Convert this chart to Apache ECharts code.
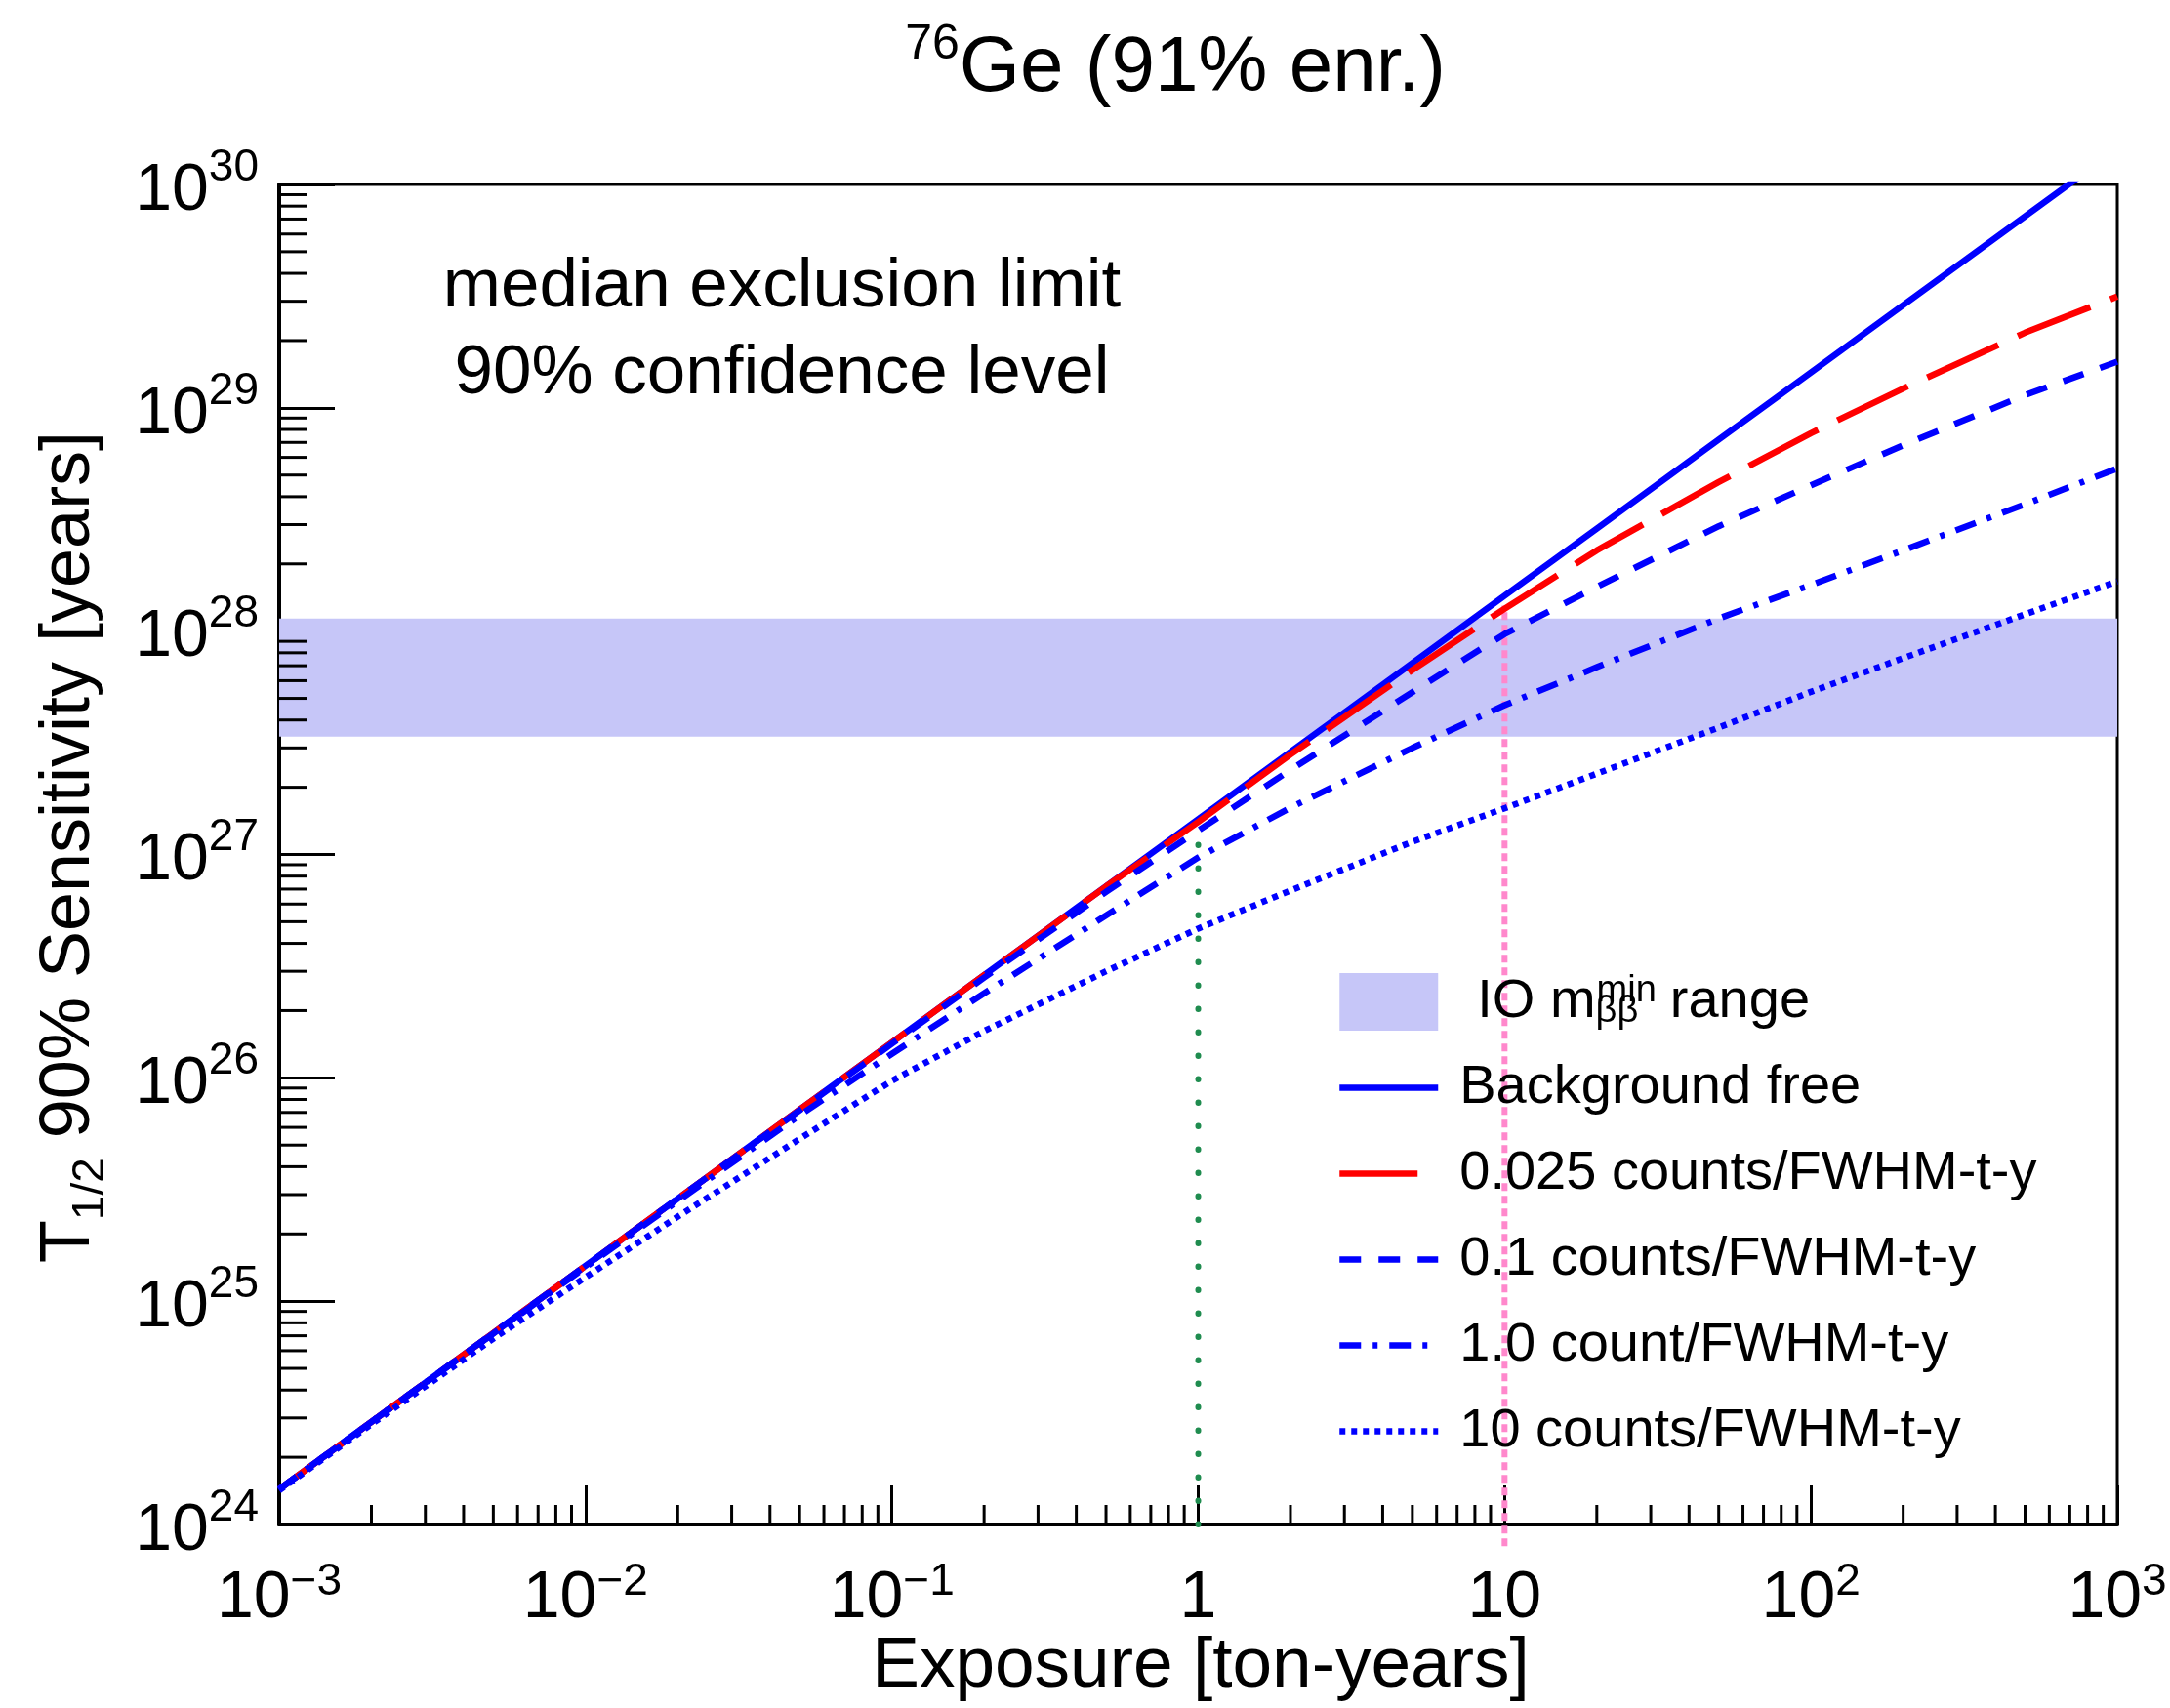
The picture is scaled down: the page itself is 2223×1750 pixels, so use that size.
<!DOCTYPE html>
<html>
<head>
<meta charset="utf-8">
<script src="https://cdn.jsdelivr.net/npm/echarts@6/dist/echarts.min.js"></script>
<style>html,body{margin:0;padding:0;background:#fff}#c{width:2223px;height:1750px}</style>
</head>
<body>
<div id="c"></div>
<script>
// ---- data ----
const exposure = [0.001, 0.002, 0.005, 0.01, 0.02, 0.05, 0.1, 0.2, 0.5, 1, 2, 5, 10, 20, 50, 100, 200, 500, 1000];
const bgFree   = [1.44e24, 2.88e24, 7.2e24, 1.44e25, 2.88e25, 7.2e25, 1.44e26, 2.88e26, 7.2e26, 1.44e27, 2.88e27, 7.2e27, 1.44e28, 2.88e28, 7.2e28, 1.44e29, 2.88e29, 7.2e29, 1.44e30];
const bkg0025  = [1.44e24, 2.88e24, 7.2e24, 1.44e25, 2.88e25, 7.2e25, 1.44e26, 2.88e26, 7.19e26, 1.40e27, 2.80e27, 6.7e27, 1.26e28, 2.3e28, 4.65e28, 7.7e28, 1.22e29, 2.17e29, 3.15e29];
const bkg01    = [1.44e24, 2.88e24, 7.2e24, 1.44e25, 2.88e25, 7.16e25, 1.42e26, 2.81e26, 6.8e26, 1.28e27, 2.39e27, 5.33e27, 9.7e27, 1.58e28, 2.95e28, 4.5e28, 6.8e28, 1.14e29, 1.61e29];
const bkg1     = [1.44e24, 2.88e24, 7.16e24, 1.42e25, 2.81e25, 6.8e25, 1.28e26, 2.39e26, 5.33e26, 9.7e26, 1.62e27, 3.0e27, 4.66e27, 6.9e27, 1.14e28, 1.61e28, 2.3e28, 3.7e28, 5.35e28];
const bkg10    = [1.42e24, 2.81e24, 6.8e24, 1.28e25, 2.39e25, 5.33e25, 9.7e25, 1.62e26, 3.0e26, 4.66e26, 6.9e26, 1.14e27, 1.61e27, 2.3e27, 3.7e27, 5.35e27, 7.57e27, 1.19e28, 1.67e28];
const ioBand   = [3.37e27, 1.14e28];
const greenMarker = [[1, 1e24], [1, 1.25e27]];
const pinkMarker  = [[10, 8e23], [10, 1.3e28]];

const seriesNames = ['Background free', '0.025 counts/FWHM-t-y', '0.1 counts/FWHM-t-y', '1.0 count/FWHM-t-y', '10 counts/FWHM-t-y'];
const bandName = 'IO range';

const xTickBase = ['10', '10', '10', '1', '10', '10', '10'];
const xTickSup  = ['\u22123', '\u22122', '\u22121', '', '', '2', '3'];
const yTickBase = ['10', '10', '10', '10', '10', '10', '10'];
const yTickSup  = ['24', '25', '26', '27', '28', '29', '30'];

const xMin = 1e-3, xMax = 1e3, yMin = 1e24, yMax = 1e30;

// minor tick positions (2..9 x 10^k)
const minorX = [], minorY = [];
for (let k = -3; k < 3; k++) for (let m = 2; m <= 9; m++) minorX.push(m * Math.pow(10, k));
for (let k = 24; k < 30; k++) for (let m = 2; m <= 9; m++) minorY.push(m * Math.pow(10, k));

const FONT = "'Liberation Sans', Arial, Helvetica, sans-serif";
const pair = (arr) => exposure.map((e, i) => [e, arr[i]]);

const chart = echarts.init(document.getElementById('c'), null, {renderer: 'canvas'});

function lineSeries(name, data, color, dash) {
  return {
    name: name, type: 'line', data: pair(data), symbol: 'none', clip: true, z: 4,
    color: color,
    lineStyle: {color: color, width: 6.5, type: dash},
    emphasis: {disabled: true}, silent: true
  };
}

const option = {
  animation: false,
  backgroundColor: '#fff',
  textStyle: {fontFamily: FONT},
  grid: {left: 286, top: 189, right: 54, bottom: 188, show: true, borderColor: '#000', borderWidth: 3,
         containLabel: false, outerBoundsMode: 'none'},
  xAxis: {
    type: 'log', logBase: 10, min: xMin, max: xMax, splitNumber: 6,
    axisLine: {lineStyle: {color: '#000', width: 4}},
    axisTick: {inside: true, length: 40, lineStyle: {color: '#000', width: 3}},
    minorTick: {show: false}, splitLine: {show: false},
    axisLabel: {
      margin: 36, showMinLabel: true, showMaxLabel: true, color: '#000', fontFamily: FONT,
      formatter: (v) => {
        const i = Math.round(Math.log10(v)) + 3;
        return '{b|' + xTickBase[i] + '}' + (xTickSup[i] ? '{e|' + xTickSup[i] + '}' : '');
      },
      rich: {
        b: {fontSize: 68, lineHeight: 80, verticalAlign: 'middle', fontFamily: FONT, color: '#000'},
        e: {fontSize: 46, lineHeight: 36, verticalAlign: 'top', fontFamily: FONT, color: '#000'}
      }
    }
  },
  yAxis: {
    type: 'log', logBase: 10, min: yMin, max: yMax, splitNumber: 6,
    axisLine: {lineStyle: {color: '#000', width: 4}},
    axisTick: {inside: true, length: 57, lineStyle: {color: '#000', width: 3}},
    minorTick: {show: false}, splitLine: {show: false},
    axisLabel: {
      margin: 21, showMinLabel: true, showMaxLabel: true, color: '#000', fontFamily: FONT,
      formatter: (v) => {
        const i = Math.round(Math.log10(v)) - 24;
        return '{b|' + yTickBase[i] + '}{e|' + yTickSup[i] + '}';
      },
      rich: {
        b: {fontSize: 68, lineHeight: 80, verticalAlign: 'middle', padding: [14, 0, 0, 0], fontFamily: FONT, color: '#000'},
        e: {fontSize: 46, lineHeight: 44, verticalAlign: 'top', fontFamily: FONT, color: '#000'}
      }
    }
  },
  legend: {
    orient: 'vertical', left: 1369, top: 997, padding: 0,
    itemWidth: 101, itemHeight: 59, itemGap: 29, selectedMode: false,
    itemStyle: {opacity: 0},
    data: [{name: bandName, icon: 'rect', itemStyle: {opacity: 1, color: '#c6c6f8'}}].concat(seriesNames),
    lineStyle: {width: 6.5},
    formatter: (name) => name === bandName
      ? '{io|IO m}{sub|\u03b2\u03b2}{sup|min}{r|range}'
      : '{n|' + name + '}',
    textStyle: {
      fontSize: 56, color: '#000', fontFamily: FONT, lineHeight: 59,
      rich: {
        n: {fontSize: 56, lineHeight: 59, verticalAlign: 'middle', padding: [0, 0, 0, 17], fontFamily: FONT, color: '#000'},
        io: {fontSize: 56, lineHeight: 59, verticalAlign: 'middle', padding: [0, 0, 0, 35], fontFamily: FONT, color: '#000'},
        r: {fontSize: 56, lineHeight: 59, verticalAlign: 'middle', padding: [0, 0, 0, 14], fontFamily: FONT, color: '#000'},
        sub: {fontSize: 38, lineHeight: 28, verticalAlign: 'bottom', width: 1, fontFamily: FONT, color: '#000'},
        sup: {fontSize: 38, lineHeight: 28, verticalAlign: 'top', fontFamily: FONT, color: '#000'}
      }
    }
  },
  graphic: [
    {type: 'text', x: 1204, y: 71, silent: true,
     style: {text: '{s|76}{m|Ge (91% enr.)}', align: 'center', verticalAlign: 'middle', fill: '#000',
             rich: {m: {fontSize: 80, lineHeight: 100, verticalAlign: 'middle', fontFamily: FONT, fill: '#000'},
                    s: {fontSize: 50, lineHeight: 50, verticalAlign: 'top', fontFamily: FONT, fill: '#000'}}}},
    {type: 'text', x: 71, y: 868, rotation: Math.PI / 2, silent: true,
     style: {text: '{m|T}{s|1/2}{m| 90% Sensitivity [years]}', align: 'center', verticalAlign: 'middle', fill: '#000',
             rich: {m: {fontSize: 72, lineHeight: 90, verticalAlign: 'middle', fontFamily: FONT, fill: '#000'},
                    s: {fontSize: 46, lineHeight: 40, verticalAlign: 'bottom', fontFamily: FONT, fill: '#000'}}}},
    {type: 'text', x: 1230, y: 1708, silent: true,
     style: {text: 'Exposure [ton-years]', align: 'center', verticalAlign: 'middle', fill: '#000',
             font: '73px ' + FONT}},
    {type: 'text', x: 801, y: 250, silent: true,
     style: {text: 'median exclusion limit\n90% confidence level', align: 'center', verticalAlign: 'top', fill: '#000',
             font: '71px ' + FONT, lineHeight: 89}}
  ],
  series: [
    {name: bandName, type: 'line', data: [[xMin, ioBand[0]]], symbol: 'none', z: 1, silent: true,
     color: '#c6c6f8', itemStyle: {color: '#c6c6f8'}, lineStyle: {width: 0},
     markArea: {silent: true, z: 1, itemStyle: {color: '#c6c6f8', opacity: 1},
                data: [[{yAxis: ioBand[0]}, {yAxis: ioBand[1]}]]}},
    lineSeries(seriesNames[0], bgFree, '#0000ff', 'solid'),
    lineSeries(seriesNames[1], bkg0025, '#ff0000', [80, 22]),
    lineSeries(seriesNames[2], bkg01, '#0000ff', [22, 18]),
    lineSeries(seriesNames[3], bkg1, '#0000ff', [22, 12, 5, 12]),
    lineSeries(seriesNames[4], bkg10, '#0000ff', [6, 6]),
    {name: 'green', type: 'line', data: greenMarker, symbol: 'none', clip: false, z: 3, silent: true,
     lineStyle: {color: '#1f8c4f', width: 6, type: [0.5, 23.5], cap: 'round'}},
    {name: 'pink', type: 'line', data: pinkMarker, symbol: 'none', clip: false, z: 3, silent: true,
     lineStyle: {color: '#ff88cc', width: 6, type: [8, 5]}},
    {name: 'minorX', type: 'custom', coordinateSystem: 'cartesian2d', silent: true, z: 6,
     data: minorX.map(v => [v, yMin]),
     renderItem: (params, api) => {
       const p = api.coord([api.value(0), yMin]);
       return {type: 'line', shape: {x1: p[0], y1: p[1], x2: p[0], y2: p[1] - 20}, style: {stroke: '#000', lineWidth: 3}};
     }},
    {name: 'minorY', type: 'custom', coordinateSystem: 'cartesian2d', silent: true, z: 6,
     data: minorY.map(v => [xMin, v]),
     renderItem: (params, api) => {
       const p = api.coord([xMin, api.value(1)]);
       return {type: 'line', shape: {x1: p[0], y1: p[1], x2: p[0] + 29, y2: p[1]}, style: {stroke: '#000', lineWidth: 3}};
     }}
  ]
};
chart.setOption(option);
</script>
</body>
</html>
